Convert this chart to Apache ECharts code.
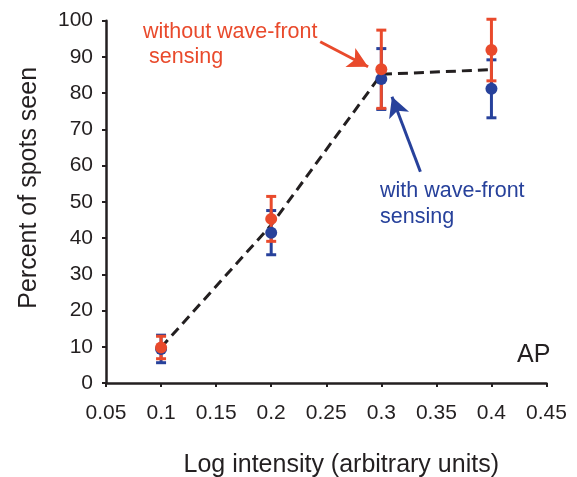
<!DOCTYPE html>
<html>
<head>
<meta charset="utf-8">
<script src="https://cdn.jsdelivr.net/npm/echarts@6/dist/echarts.min.js"></script>
<style>
  html, body { margin: 0; padding: 0; background: #fff; }
  #chart { width: 577px; height: 477px; }
</style>
</head>
<body>
<div id="chart"></div>
<script>
// log intensity of each stimulus
const xValues = [0.1, 0.2, 0.3, 0.4]
// without wave-front sensing (red)
const withoutWF = [9.8, 45.3, 86.6, 91.9]
const withoutErr = [3.1, 6.2, 10.8, 8.5]
// with wave-front sensing (blue)
const withWF = [9.4, 41.5, 83.9, 81.2]
const withErr = [3.8, 6.1, 8.4, 8.0]
// dashed curve through the mean of both
const meanLine = [9.8, 43.6, 85.2, 86.5]
const xTicks = [0.05, 0.1, 0.15, 0.2, 0.25, 0.3, 0.35, 0.4, 0.45]
const yTicks = [0, 10, 20, 30, 40, 50, 60, 70, 80, 90, 100]

const RED = '#e94a2c'
const BLUE = '#27419b'
const INK = '#231f20'
const FONT = '"Liberation Sans", Arial, sans-serif'

const chart = echarts.init(document.getElementById('chart'))

const errData = (vals, errs) => xValues.map((x, i) => [x, vals[i] - errs[i], vals[i] + errs[i]])
const pts = vals => xValues.map((x, i) => [x, vals[i]])

function errorBar(color) {
  return function (params, api) {
    const top = api.coord([api.value(0), api.value(2)])
    const bot = api.coord([api.value(0), api.value(1)])
    const hw = 5
    const style = { stroke: color, lineWidth: 3 }
    return {
      type: 'group',
      children: [
        { type: 'line', shape: { x1: top[0], y1: top[1], x2: bot[0], y2: bot[1] }, style },
        { type: 'line', shape: { x1: top[0] - hw, y1: top[1], x2: top[0] + hw, y2: top[1] }, style },
        { type: 'line', shape: { x1: bot[0] - hw, y1: bot[1], x2: bot[0] + hw, y2: bot[1] }, style }
      ]
    }
  }
}

const option = {
  animation: false,
  backgroundColor: '#fff',
  grid: { left: 106, right: 30.5, top: 20.7, bottom: 94, outerBoundsMode: 'none', containLabel: false },
  xAxis: {
    type: 'value',
    min: xTicks[0],
    max: xTicks[xTicks.length - 1],
    interval: 0.05,
    name: 'Log intensity (arbitrary units)',
    nameLocation: 'middle',
    nameGap: 70,
    nameTextStyle: { fontSize: 25, color: INK, fontFamily: FONT, padding: [0, 0, 0, 30] },
    axisLine: { lineStyle: { color: INK, width: 2.5 } },
    axisTick: { inside: false, length: 4, lineStyle: { color: INK, width: 2 } },
    axisLabel: {
      fontSize: 21, color: INK, fontFamily: FONT, margin: 20,
      formatter: v => String(Math.round(v * 100) / 100)
    },
    splitLine: { show: false }
  },
  yAxis: {
    type: 'value',
    min: yTicks[0],
    max: yTicks[yTicks.length - 1],
    interval: 10,
    name: 'Percent of spots seen',
    nameLocation: 'middle',
    nameGap: 64,
    nameTextStyle: { fontSize: 25, color: INK, fontFamily: FONT, padding: [0, 0, 0, 28] },
    axisLine: { show: true, lineStyle: { color: INK, width: 2.5 } },
    axisTick: { show: true, inside: false, length: 4, lineStyle: { color: INK, width: 2 } },
    axisLabel: { fontSize: 21, color: INK, fontFamily: FONT, margin: 13 },
    splitLine: { show: false }
  },
  series: [
    {
      name: 'mean',
      type: 'line',
      data: pts(meanLine),
      symbol: 'none',
      z: 1,
      lineStyle: { color: INK, width: 3, type: [10, 6] },
      markLine: {
        silent: true,
        symbol: ['none', 'arrow'],
        symbolSize: [16, 20],
        label: { show: false },
        data: [
          [
            { coord: [0.2445, 94.2], lineStyle: { color: RED, width: 3, type: 'solid' } },
            { coord: [0.2880, 87.3] }
          ],
          [
            { coord: [0.3355, 58.3], lineStyle: { color: BLUE, width: 3, type: 'solid' } },
            { coord: [0.3097, 79.0] }
          ]
        ]
      }
    },
    {
      name: 'with err',
      type: 'custom',
      z: 2,
      renderItem: errorBar(BLUE),
      data: errData(withWF, withErr)
    },
    {
      name: 'without err',
      type: 'custom',
      z: 3,
      renderItem: errorBar(RED),
      data: errData(withoutWF, withoutErr)
    },
    {
      name: 'with wave-front sensing',
      type: 'scatter',
      z: 4,
      symbolSize: 12,
      itemStyle: { color: BLUE, opacity: 1 },
      data: pts(withWF)
    },
    {
      name: 'without wave-front sensing',
      type: 'scatter',
      z: 5,
      symbolSize: 12,
      itemStyle: { color: RED, opacity: 1 },
      data: pts(withoutWF)
    }
  ],
  graphic: [
    { type: 'text', left: 143, top: 21, style: { text: 'without wave-front', fill: RED, font: '21.5px ' + FONT } },
    { type: 'text', left: 149, top: 46, style: { text: 'sensing', fill: RED, font: '21.5px ' + FONT } },
    { type: 'text', left: 380, top: 180, style: { text: 'with wave-front', fill: BLUE, font: '21.5px ' + FONT } },
    { type: 'text', left: 380, top: 206, style: { text: 'sensing', fill: BLUE, font: '21.5px ' + FONT } },
    { type: 'text', left: 517, top: 343, style: { text: 'AP', fill: INK, font: '25px ' + FONT } }
  ]
}

chart.setOption(option)
</script>
</body>
</html>
